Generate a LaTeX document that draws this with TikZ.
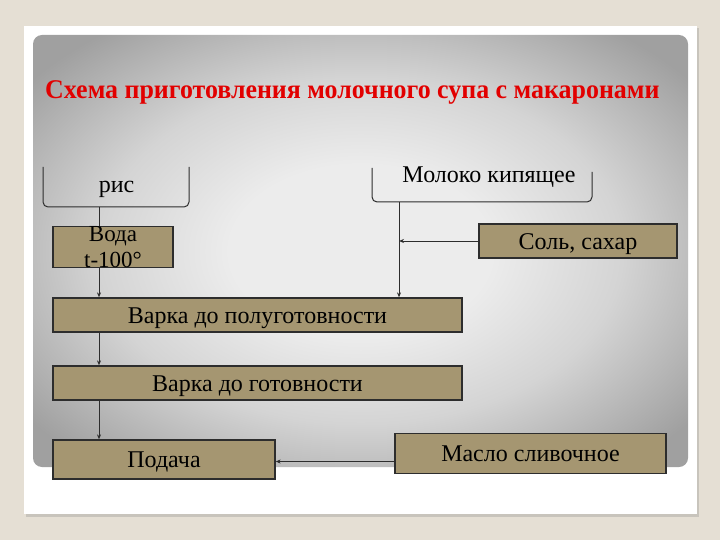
\documentclass[tikz,border=0pt]{standalone}
\usepackage{fontspec}
\setmainfont{Liberation Serif}
\usetikzlibrary{arrows.meta}
\definecolor{bgbeige}{RGB}{229,223,212}
\definecolor{shadowc}{RGB}{200,196,188}
\definecolor{gin}{RGB}{236,236,236}
\definecolor{gmid}{RGB}{212,212,212}
\definecolor{gout}{RGB}{160,160,160}
\definecolor{boxc}{RGB}{165,150,113}
\definecolor{titlered}{RGB}{226,0,0}
\definecolor{linec}{RGB}{45,45,45}
\pgfdeclareradialshading{slide}{\pgfpoint{0bp}{0bp}}{color(0bp)=(gin); color(10bp)=(gin); color(20bp)=(gmid); color(32bp)=(gout); color(50bp)=(gout)}
\tikzset{
  box/.style={draw=linec, line width=1.3pt, fill=boxc, inner sep=0pt,
    font=\fontsize{24}{26}\selectfont, text=black, text height=16pt, text depth=0pt},
  lbl/.style={font=\fontsize{24}{26}\selectfont, inner sep=0pt, text=black},
  brk/.style={draw=linec, line width=1pt, rounded corners=5pt},
  plain/.style={draw=linec, line width=0.9pt},
  arr/.style={plain, -{Stealth[length=5pt,width=4pt]}}
}
\begin{document}
\begin{tikzpicture}[x=1pt,y=-1pt]
\useasboundingbox (0,0) rectangle (720,540);
\fill[bgbeige] (0,0) rectangle (720,540);
\fill[shadowc] (26,28) rectangle (699,517);
\fill[white] (24,26) rectangle (697,514);
\shade[shading=slide, rounded corners=9pt] (33,35) rectangle (688,467);

\node[font=\bfseries\fontsize{27}{27}\selectfont, text=titlered, anchor=base west, inner sep=0pt, xscale=0.96]
  (title) at (45,99) {Схема приготовления молочного супа с макаронами};

% brackets
\draw[brk] (43,167) -- (43,207) -- (189,207) -- (189,167);
\coordinate (risb) at (99,207);
\node[lbl, anchor=base] (ris) at (116.5,193) {рис};
\draw[brk] (372,168) -- (372,202) -- (592,202) -- (592,172);
\coordinate (molb) at (399,202);
\node[lbl, anchor=base] (moloko) at (489,183) {Молоко кипящее};

% boxes
\node[box, minimum width=120pt, minimum height=34pt, align=center,
  font=\fontsize{23}{26}\selectfont, text height=, text depth=] (voda) at (113,247) {Вода\\t-100°};
\node[box, minimum width=198pt, minimum height=34pt] (sol) at (578,241) {Соль, сахар};
\node[box, minimum width=409pt, minimum height=34pt] (polu) at (257.5,315) {Варка до полуготовности};
\node[box, minimum width=409pt, minimum height=34pt] (gotov) at (257.5,383) {Варка до готовности};
\node[box, minimum width=222pt, minimum height=39pt] (podacha) at (164,459.5) {Подача};
\node[box, minimum width=271pt, minimum height=40pt] (maslo) at (530.5,453.5) {Масло сливочное};

% connectors
\draw[plain] (risb) -- (risb |- voda.north);
\draw[arr] (risb |- voda.south) -- (risb |- polu.north);
\draw[arr] (risb |- polu.south) -- (risb |- gotov.north);
\draw[arr] (risb |- gotov.south) -- (risb |- podacha.north);
\draw[arr] (molb) -- (molb |- polu.north);
\draw[arr] (sol.west) -- (molb |- sol.west);
\coordinate (mz) at ([yshift=-8pt]maslo.west);
\draw[arr] (mz) -- (mz -| podacha.east);
\end{tikzpicture}
\end{document}
